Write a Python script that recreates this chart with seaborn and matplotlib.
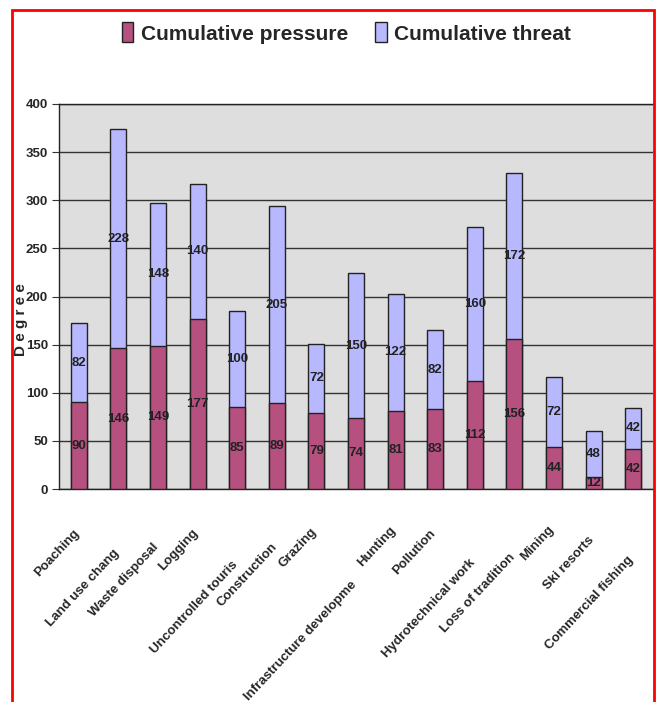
import pandas as pd
import matplotlib.pyplot as plt
import matplotlib.patches as mpatches
import matplotlib.transforms as mtransforms
import seaborn as sns

# ----------------------------
# DATA
# ----------------------------
categories = ["Poaching", "Land use chang", "Waste disposal", "Logging",
              "Uncontrolled touris", "Construction", "Grazing",
              "Infrastructure developme", "Hunting", "Pollution",
              "Hydrotechnical work", "Loss of tradition", "Mining",
              "Ski resorts", "Commercial fishing"]
pressure = [90, 146, 149, 177, 85, 89, 79, 74, 81, 83, 112, 156, 44, 12, 42]
threat = [82, 228, 148, 140, 100, 205, 72, 150, 122, 82, 160, 172, 72, 48, 42]

df = pd.DataFrame({"category": categories, "pressure": pressure, "threat": threat})
df["total"] = df["pressure"] + df["threat"]

# label drop below axis (px), Excel staggers them
label_drop = [39, 59, 53, 39, 71, 53, 38, 91, 36, 39, 69, 63, 36, 46, 66]

# ----------------------------
# STYLE
# ----------------------------
sns.set_style("white")
plt.rcParams['font.family'] = ['Liberation Sans', 'DejaVu Sans']
plt.rcParams['font.weight'] = 'bold'

c_press = "#B5507F"
c_threat = "#B8B8FF"
dark = "#222222"

fig = plt.figure(figsize=(6.56, 7.02), dpi=100)
ax = fig.add_axes([59/656, 1-489/702, (653-59)/656, (489-104)/702])
ax.set_facecolor("#DEDEDE")

# ----------------------------
# STACKED BARS
# ----------------------------
sns.barplot(data=df, x="category", y="total", color=c_threat, width=0.4,
            edgecolor=dark, linewidth=1, saturation=1, ax=ax, zorder=3)
sns.barplot(data=df, x="category", y="pressure", color=c_press, width=0.4,
            edgecolor=dark, linewidth=1, saturation=1, ax=ax, zorder=3)

for i, row in df.iterrows():
    ax.text(i, row["pressure"] / 2, str(row["pressure"]), ha="center", va="center",
            fontsize=9.5, fontweight="bold", color=dark, zorder=4)
    ax.text(i, row["pressure"] + row["threat"] / 2, str(row["threat"]), ha="center",
            va="center", fontsize=9.5, fontweight="bold", color=dark, zorder=4)

ax.set_ylim(0, 400)
ax.set_yticks(range(0, 401, 50))
ax.set_xlim(-0.5, len(categories) - 0.5)
ax.yaxis.grid(True, color="#333333", linewidth=1)
ax.set_axisbelow(True)
for s in ax.spines.values():
    s.set_color(dark)
    s.set_linewidth(1)
ax.spines["right"].set_visible(False)

ax.tick_params(axis="y", left=True, length=5, color="#333333", labelsize=9.5, pad=3)
ax.tick_params(axis="x", bottom=False, length=0)
ax.set_xlabel("")
ax.set_ylabel("D e g r e e", fontsize=11, fontweight="bold")
ax.yaxis.set_label_coords(-0.053, 0.44)

ax.set_xticks(range(len(categories)))
ax.set_xticklabels(categories, rotation=47, ha="right", va="top",
                   rotation_mode="anchor", fontsize=9.5, fontweight="bold")
for lbl, d in zip(ax.get_xticklabels(), label_drop):
    off = mtransforms.ScaledTranslation(-6/100, -(d - 6)/100, fig.dpi_scale_trans)
    lbl.set_transform(lbl.get_transform() + off)

# ----------------------------
# LEGEND
# ----------------------------
handles = [mpatches.Patch(facecolor=c_press, edgecolor=dark, label="Cumulative pressure"),
           mpatches.Patch(facecolor=c_threat, edgecolor=dark, label="Cumulative threat")]
fig.legend(handles=handles, loc="center", bbox_to_anchor=(0.528, 1-33/702), ncol=2,
           frameon=False, prop={"size": 15, "weight": "bold"},
           handlelength=0.55, handleheight=1.1, handletextpad=0.35, columnspacing=1.3)

# red frame
fig.patches.append(mpatches.Rectangle((12/656, -0.05), (654-12)/656, 1.05 - 10/702,
                                      transform=fig.transFigure, fill=False,
                                      edgecolor="red", linewidth=2, zorder=10))

plt.savefig("out.png", dpi=100)
